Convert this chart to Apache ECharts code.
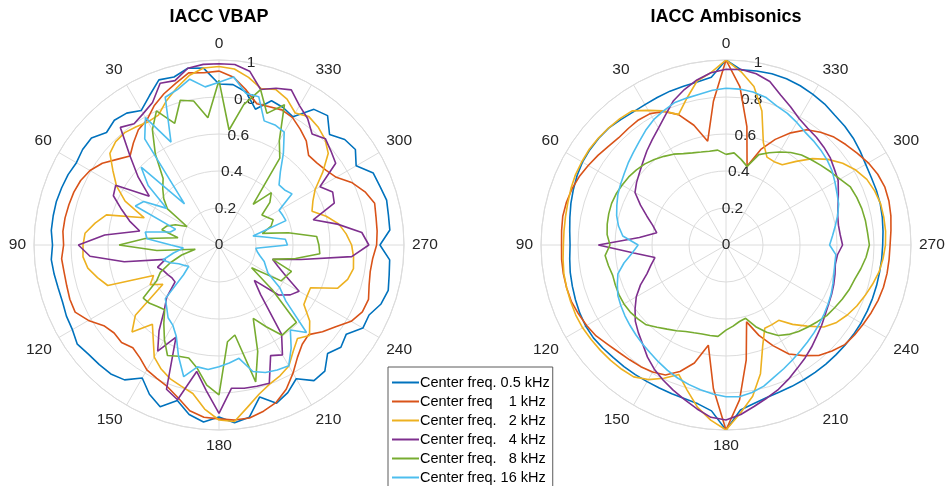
<!DOCTYPE html>
<html>
<head>
<meta charset="utf-8">
<title>IACC polar plots</title>
<script src="https://cdn.jsdelivr.net/npm/echarts@6/dist/echarts.min.js"></script>
<style>
  html, body { margin: 0; padding: 0; background: #fff; }
  #chart { width: 947px; height: 486px; }
</style>
</head>
<body>
<div id="chart"></div>
<script>
// Source directions in degrees, sampled every 5 degrees
const ANGLES = Array.from({ length: 72 }, (_, i) => i * 5);

const SERIES_NAMES = [
  'Center freq. 0.5 kHz',
  'Center freq    1 kHz',
  'Center freq.   2 kHz',
  'Center freq.   4 kHz',
  'Center freq.   8 kHz',
  'Center freq. 16 kHz'
];
const COLORS = ['#0072BD', '#D95319', '#EDB120', '#7E2F8E', '#77AC30', '#4DBEEE'];

const ANGLE_TICKS = [0, 30, 60, 90, 120, 150, 180, 210, 240, 270, 300, 330];
const RADIUS_TICKS = [0, 0.2, 0.4, 0.6, 0.8, 1];

// IACC, VBAP rendering
const vbap_05k = [
  0.87, 0.96, 0.97, 0.94, 0.95, 0.89, 0.84, 0.87, 0.88, 0.86,
  0.90, 0.90, 0.89, 0.90, 0.905, 0.91, 0.91, 0.91, 0.90, 0.91,
  0.905, 0.90, 0.90, 0.91, 0.915, 0.935, 0.92, 0.915, 0.91, 0.89,
  0.83, 0.89, 0.93, 0.87, 0.93, 0.96, 0.93, 0.965, 0.945, 0.85,
  0.91, 0.88, 0.835, 0.895, 0.89, 0.83, 0.86, 0.84, 0.898, 0.895,
  0.932, 0.947, 0.934, 0.926, 0.87, 0.927, 0.93, 0.938, 0.926, 0.92,
  0.856, 0.90, 0.887, 0.845, 0.913, 0.895, 0.80, 0.82, 0.83, 0.76,
  0.84, 0.87
];
const vbap_1k = [
  0.94, 0.935, 0.945, 0.905, 0.87, 0.83, 0.78, 0.76, 0.72, 0.68,
  0.72, 0.77, 0.805, 0.825, 0.835, 0.84, 0.845, 0.847, 0.84, 0.854,
  0.85, 0.852, 0.858, 0.858, 0.815, 0.76, 0.74, 0.745, 0.725, 0.745,
  0.78, 0.795, 0.815, 0.855, 0.91, 0.935, 0.94, 0.95, 0.95, 0.93,
  0.905, 0.86, 0.80, 0.74, 0.70, 0.685, 0.73, 0.77, 0.825, 0.855,
  0.86, 0.84, 0.83, 0.834, 0.852, 0.858, 0.862, 0.871, 0.84, 0.795,
  0.732, 0.705, 0.69, 0.685, 0.734, 0.765, 0.795, 0.806, 0.795, 0.79,
  0.85, 0.91
];
const vbap_2k = [
  0.965, 0.96, 0.93, 0.88, 0.83, 0.775, 0.768, 0.78, 0.793, 0.79,
  0.77, 0.70, 0.64, 0.56, 0.43, 0.63, 0.68, 0.727, 0.735, 0.738,
  0.72, 0.68, 0.64, 0.39, 0.43, 0.37, 0.59, 0.665, 0.56, 0.62,
  0.70, 0.74, 0.77, 0.79, 0.815, 0.89, 0.946, 0.958, 0.89, 0.835,
  0.80, 0.78, 0.755, 0.70, 0.66, 0.692, 0.64, 0.56, 0.55, 0.546,
  0.683, 0.72, 0.738, 0.73, 0.717, 0.69, 0.657, 0.60, 0.535, 0.56,
  0.60, 0.684, 0.771, 0.81, 0.833, 0.847, 0.824, 0.87, 0.895, 0.876,
  0.92, 0.955
];
const vbap_4k = [
  0.98, 0.98, 0.97, 0.92, 0.93, 0.85, 0.82, 0.80, 0.83, 0.68,
  0.57, 0.46, 0.645, 0.63, 0.56, 0.50, 0.435, 0.62, 0.76, 0.70,
  0.52, 0.30, 0.354, 0.33, 0.32, 0.31, 0.31, 0.40, 0.46, 0.565,
  0.663, 0.55, 0.83, 0.866, 0.694, 0.79, 0.91, 0.777, 0.786, 0.79,
  0.795, 0.66, 0.686, 0.59, 0.35, 0.27, 0.42, 0.47, 0.50, 0.40,
  0.34, 0.30, 0.45, 0.72, 0.81, 0.775, 0.65, 0.527, 0.663, 0.678,
  0.63, 0.77, 0.79, 0.813, 0.783, 0.835, 0.87, 0.925, 0.902, 0.87,
  0.954, 0.979
];
const vbap_8k = [
  0.89, 0.69, 0.79, 0.81, 0.70, 0.80, 0.72, 0.60, 0.47, 0.43,
  0.39, 0.34, 0.20, 0.26, 0.30, 0.32, 0.225, 0.40, 0.54, 0.337,
  0.13, 0.209, 0.28, 0.35, 0.39, 0.50, 0.49, 0.47, 0.457, 0.52,
  0.59, 0.659, 0.64, 0.632, 0.677, 0.76, 0.81, 0.525, 0.494, 0.766,
  0.612, 0.438, 0.51, 0.595, 0.59, 0.592, 0.376, 0.215, 0.388, 0.40,
  0.417, 0.30, 0.42, 0.547, 0.54, 0.53, 0.38, 0.242, 0.30, 0.323,
  0.30, 0.283, 0.359, 0.40, 0.287, 0.573, 0.652, 0.837, 0.757, 0.869,
  0.77, 0.624
];
const vbap_16k = [
  0.88, 0.858, 0.91, 0.87, 0.85, 0.614, 0.795, 0.70, 0.29, 0.595,
  0.50, 0.345, 0.47, 0.499, 0.25, 0.272, 0.405, 0.39, 0.26, 0.193,
  0.25, 0.314, 0.28, 0.24, 0.22, 0.20, 0.25, 0.41, 0.44, 0.48,
  0.50, 0.546, 0.64, 0.737, 0.669, 0.676, 0.658, 0.64, 0.622, 0.708,
  0.733, 0.745, 0.754, 0.68, 0.60, 0.669, 0.472, 0.40, 0.306, 0.28,
  0.26, 0.23, 0.21, 0.20, 0.37, 0.36, 0.25, 0.19, 0.385, 0.38,
  0.375, 0.482, 0.463, 0.459, 0.516, 0.607, 0.705, 0.716, 0.714, 0.83,
  0.833, 0.912
];

// IACC, Ambisonics rendering
const ambi_05k = [
  1.0, 0.91, 0.895, 0.888, 0.885, 0.88, 0.876, 0.877, 0.885, 0.895,
  0.898, 0.898, 0.896, 0.888, 0.878, 0.868, 0.857, 0.848, 0.843, 0.848,
  0.855, 0.86, 0.866, 0.872, 0.876, 0.875, 0.868, 0.861, 0.858, 0.855,
  0.853, 0.853, 0.856, 0.86, 0.872, 0.9, 1.0, 0.895, 0.87, 0.853,
  0.846, 0.843, 0.841, 0.84, 0.84, 0.84, 0.841, 0.842, 0.843, 0.843,
  0.843, 0.843, 0.843, 0.845, 0.847, 0.852, 0.858, 0.863, 0.865, 0.866,
  0.872, 0.885, 0.898, 0.908, 0.915, 0.93, 0.94, 0.95, 0.956, 0.958,
  0.955, 0.95
];
const ambi_1k = [
  1.0, 0.78, 0.57, 0.67, 0.75, 0.796, 0.82, 0.825, 0.822, 0.82,
  0.83, 0.845, 0.86, 0.875, 0.886, 0.893, 0.896, 0.892, 0.889, 0.892,
  0.893, 0.892, 0.89, 0.88, 0.87, 0.857, 0.835, 0.82, 0.81, 0.803,
  0.793, 0.775, 0.728, 0.66, 0.55, 0.78, 1.0, 0.84, 0.63, 0.43,
  0.52, 0.60, 0.68, 0.73, 0.78, 0.81, 0.838, 0.848, 0.856, 0.866,
  0.875, 0.881, 0.884, 0.885, 0.887, 0.895, 0.905, 0.912, 0.914, 0.905,
  0.888, 0.865, 0.845, 0.825, 0.795, 0.76, 0.70, 0.63, 0.55, 0.44,
  0.65, 0.86
];
const ambi_2k = [
  1.0, 0.935, 0.90, 0.82, 0.75, 0.80, 0.84, 0.885, 0.892, 0.896,
  0.90, 0.902, 0.90, 0.898, 0.892, 0.885, 0.881, 0.879, 0.879, 0.884,
  0.89, 0.892, 0.894, 0.896, 0.895, 0.89, 0.886, 0.882, 0.877, 0.87,
  0.84, 0.795, 0.745, 0.812, 0.89, 0.95, 1.0, 0.91, 0.83, 0.72,
  0.58, 0.496, 0.497, 0.497, 0.56, 0.62, 0.69, 0.73, 0.757, 0.78,
  0.80, 0.82, 0.84, 0.852, 0.862, 0.866, 0.866, 0.865, 0.855, 0.84,
  0.81, 0.77, 0.72, 0.66, 0.59, 0.53, 0.52, 0.524, 0.59, 0.75,
  0.87, 0.94
];
const ambi_4k = [
  0.95, 0.935, 0.906, 0.87, 0.83, 0.775, 0.73, 0.695, 0.665, 0.635,
  0.61, 0.59, 0.568, 0.51, 0.455, 0.41, 0.38, 0.47, 0.69, 0.50,
  0.39, 0.42, 0.455, 0.51, 0.56, 0.60, 0.64, 0.67, 0.70, 0.74,
  0.775, 0.805, 0.835, 0.865, 0.9, 0.935, 0.946, 0.92, 0.885, 0.856,
  0.83, 0.80, 0.77, 0.745, 0.72, 0.695, 0.675, 0.655, 0.64, 0.63,
  0.62, 0.61, 0.60, 0.605, 0.63, 0.62, 0.617, 0.625, 0.645, 0.67,
  0.70, 0.715, 0.735, 0.748, 0.76, 0.77, 0.79, 0.825, 0.863, 0.915,
  0.94, 0.952
];
const ambi_8k = [
  0.49, 0.515, 0.515, 0.52, 0.53, 0.545, 0.567, 0.585, 0.603, 0.62,
  0.632, 0.642, 0.648, 0.655, 0.658, 0.656, 0.652, 0.645, 0.627, 0.656,
  0.645, 0.634, 0.636, 0.638, 0.637, 0.632, 0.622, 0.61, 0.58, 0.555,
  0.535, 0.516, 0.505, 0.498, 0.497, 0.496, 0.46, 0.44, 0.42, 0.41,
  0.47, 0.52, 0.565, 0.59, 0.61, 0.627, 0.645, 0.665, 0.678, 0.693,
  0.708, 0.72, 0.74, 0.76, 0.775, 0.768, 0.765, 0.76, 0.752, 0.742,
  0.712, 0.69, 0.67, 0.652, 0.635, 0.61, 0.58, 0.55, 0.52, 0.44,
  0.47, 0.50
];
const ambi_16k = [
  0.847, 0.84, 0.828, 0.822, 0.818, 0.80, 0.782, 0.757, 0.73, 0.708,
  0.69, 0.672, 0.658, 0.645, 0.628, 0.612, 0.59, 0.56, 0.475, 0.51,
  0.56, 0.605, 0.625, 0.645, 0.656, 0.667, 0.677, 0.688, 0.70, 0.713,
  0.73, 0.748, 0.765, 0.78, 0.795, 0.808, 0.82, 0.823, 0.81, 0.79,
  0.76, 0.738, 0.718, 0.70, 0.685, 0.672, 0.66, 0.648, 0.637, 0.627,
  0.615, 0.604, 0.597, 0.596, 0.56, 0.578, 0.60, 0.625, 0.648, 0.662,
  0.68, 0.70, 0.714, 0.725, 0.735, 0.745, 0.765, 0.785, 0.80, 0.827,
  0.84, 0.846
];

const VBAP = [vbap_05k, vbap_1k, vbap_2k, vbap_4k, vbap_8k, vbap_16k];
const AMBI = [ambi_05k, ambi_1k, ambi_2k, ambi_4k, ambi_8k, ambi_16k];

const FONT = '"Liberation Sans", Arial, Helvetica, sans-serif';
const TEXT_COLOR = '#262626';
const GRID_COLOR = '#dcdcdc';
const CENTERS = [[219, 245], [726, 245]];
const RADIUS = 185;

// closed polar curve: [radius, angle] pairs, first point repeated at 360
function closedCurve(values) {
  const pts = values.map((v, i) => [v, ANGLES[i]]);
  pts.push([values[0], 360]);
  return pts;
}

const polar = [];
const angleAxis = [];
const radiusAxis = [];

CENTERS.forEach((c, k) => {
  // grid polar (index k)
  polar.push({ center: c, radius: RADIUS });
  angleAxis.push({
    polarIndex: k,
    type: 'value',
    min: 0, max: 360, interval: 30,
    startAngle: 90, clockwise: false,
    axisLine: { lineStyle: { color: GRID_COLOR, width: 1 } },
    axisTick: { show: false },
    splitLine: { lineStyle: { color: GRID_COLOR, width: 1 } },
    axisLabel: {
      margin: 8, fontSize: 15.5, color: TEXT_COLOR, fontFamily: FONT,
      formatter: v => (ANGLE_TICKS.indexOf(v) >= 0 ? String(v) : '')
    }
  });
  radiusAxis.push({
    polarIndex: k,
    type: 'value', min: 0, max: 1, interval: 0.2,
    axisLine: { show: false },
    axisTick: { show: false },
    axisLabel: { show: false },
    splitLine: { lineStyle: { color: GRID_COLOR, width: 1 } }
  });
});

CENTERS.forEach((c, k) => {
  // label-only polar: radius tick labels along the 350 degree direction
  polar.push({ center: c, radius: RADIUS });
  angleAxis.push({
    polarIndex: 2 + k,
    type: 'value', min: 0, max: 360,
    startAngle: 80, clockwise: false,
    show: false
  });
  radiusAxis.push({
    polarIndex: 2 + k,
    type: 'value', min: 0, max: 1, interval: 0.2,
    axisLine: { show: false },
    axisTick: { show: false },
    splitLine: { show: false },
    axisLabel: {
      margin: 0, align: 'center', verticalAlign: 'middle',
      fontSize: 15.5, color: TEXT_COLOR, fontFamily: FONT,
      formatter: v => (RADIUS_TICKS.indexOf(+v.toFixed(1)) >= 0 ? String(+v.toFixed(1)) : '')
    }
  });
});

const series = [];
[VBAP, AMBI].forEach((set, k) => {
  set.forEach((vals, i) => {
    series.push({
      name: SERIES_NAMES[i],
      type: 'line',
      coordinateSystem: 'polar',
      polarIndex: k,
      data: closedCurve(vals),
      symbol: 'none',
      smooth: false,
      clip: false,
      lineStyle: { color: COLORS[i], width: 1.6 },
      itemStyle: { color: COLORS[i] },
      z: 3 + i
    });
  });
});

const chart = echarts.init(document.getElementById('chart'), null, { renderer: 'canvas' });
chart.setOption({
  animation: false,
  backgroundColor: '#ffffff',
  textStyle: { fontFamily: FONT },
  color: COLORS,
  polar: polar,
  angleAxis: angleAxis,
  radiusAxis: radiusAxis,
  legend: {
    data: SERIES_NAMES,
    orient: 'vertical',
    left: 388, top: 367, height: 220,
    padding: [8, 3, 8, 4],
    itemWidth: 27, itemHeight: 2, itemGap: 4,
    icon: 'rect',
    selectedMode: false,
    backgroundColor: '#ffffff',
    borderColor: '#5a5a5a', borderWidth: 1, borderRadius: 0,
    textStyle: { fontSize: 14.5, color: '#000000', fontFamily: FONT, lineHeight: 15, padding: [0, 0, 0, -4] },
    z: 20
  },
  graphic: [
    { type: 'text', x: 219, y: 17, z: 30,
      style: { text: 'IACC VBAP', font: 'bold 18px ' + FONT, fill: '#000000', textAlign: 'center', textVerticalAlign: 'middle' } },
    { type: 'text', x: 726, y: 17, z: 30,
      style: { text: 'IACC Ambisonics', font: 'bold 18px ' + FONT, fill: '#000000', textAlign: 'center', textVerticalAlign: 'middle' } }
  ],
  series: series
});
</script>
</body>
</html>
